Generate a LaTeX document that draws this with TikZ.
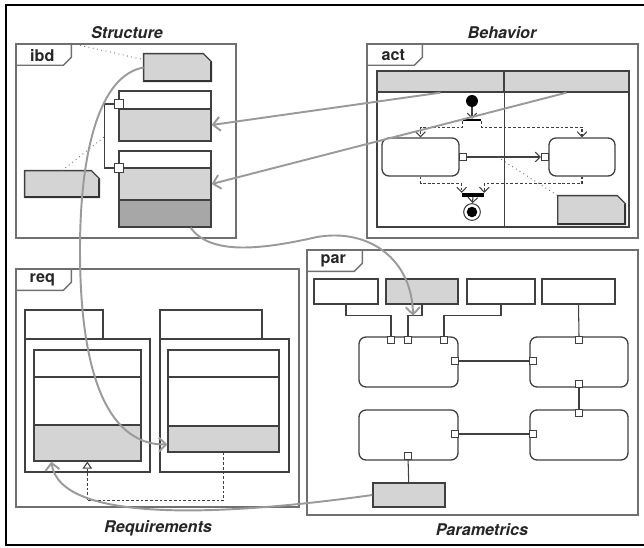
\documentclass[tikz,border=0pt]{standalone}
\usepackage{fontspec}
\setmainfont{TeX Gyre Heros}
\usetikzlibrary{fit,calc,arrows.meta}
\definecolor{lgray}{HTML}{D4D4D4}
\definecolor{dgray}{HTML}{A7A7A7}
\definecolor{framegray}{HTML}{707070}
\definecolor{linkgray}{HTML}{9A9A9A}
\tikzstyle{sysframe} = [draw=framegray, line width=0.8pt, inner sep=0pt]
\tikzstyle{blk} = [draw=black!75, line width=0.75pt, inner sep=0pt]
\tikzstyle{grayblk} = [blk, fill=lgray]
\tikzstyle{darkblk} = [blk, fill=dgray]
\tikzstyle{port} = [draw=black!75, fill=white, line width=0.6pt, minimum size=3.6pt, inner sep=0pt]
\tikzstyle{actbox} = [blk, rounded corners=4pt]
\tikzstyle{wire} = [draw=black!75, line width=0.6pt]
\tikzstyle{flow} = [wire, dash pattern=on 1.6pt off 1.1pt]
\tikzstyle{anno} = [draw=black!60, dotted, line width=0.5pt]
\tikzstyle{link} = [draw=linkgray, line width=1.1pt, -{Straight Barb[length=4pt,width=8pt]}]
\tikzstyle{flowhead} = [-{Straight Barb[length=2.8pt,width=5.5pt]}]
\tikzstyle{viewtitle} = [font=\fontsize{9.2}{11}\selectfont\bfseries\itshape, text=black!85]
\tikzstyle{tabtext} = [font=\fontsize{9.2}{11}\selectfont\bfseries, text=black!85]

\newcommand{\sysview}[4]{%
  \node[sysframe, fit={#2 #3}] (#1) {};
  \draw[draw=framegray, line width=0.8pt] (#1.north west) ++(56,0) -- ++(0,14) -- ++(-8,8) -- ++(-48,0);
  \node[tabtext] (#1-tab) at ($(#1.north west)+(27,12)$) {#4};
}
\newcommand{\dognote}[3]{%
  \node[inner sep=0pt, fit={#2 #3}] (#1) {};
  \draw[blk, fill=lgray] (#1.north west) -- ($(#1.north east)+(-8,0)$) -- ($(#1.north east)+(0,8)$) -- (#1.south east) -- (#1.south west) -- cycle;
  \draw[black!80, line width=1.2pt] ($(#1.north east)+(0,8)$) -- (#1.south east) -- (#1.south west);
}

\begin{document}
\begin{tikzpicture}[x=0.02cm, y=-0.02cm]
  \useasboundingbox (0,0) rectangle (644,547);
  \draw[line width=1pt] (644,5) -- (6,5) -- (6,545) -- (644,545);

  \node[viewtitle] (structure) at (127,33) {Structure};
  \node[viewtitle] (behavior) at (502,33) {Behavior};
  \node[viewtitle] (requirements) at (158,528) {Requirements};
  \node[viewtitle] (parametrics) at (482,530) {Parametrics};

  \sysview{ibd}{(16,44)}{(236,238)}{ibd}
  \sysview{act}{(367,44)}{(638,238)}{act}
  \sysview{req}{(16,269)}{(299,507)}{req}
  \sysview{par}{(307,250)}{(638,515)}{par}

  % ibd
  \dognote{ibdnote}{(144,54)}{(211,81)}
  \dognote{ibdnote2}{(25,171)}{(99,197)}
  \node[blk, fit={(119,91)(211,109)}] (ibd1a) {};
  \node[grayblk, fit={(119,109)(211,141)}] (ibd1b) {};
  \node[blk, fit={(119,151)(211,168)}] (ibd2a) {};
  \node[grayblk, fit={(119,168)(211,200)}] (ibd2b) {};
  \node[darkblk, fit={(119,200)(211,227)}] (ibd2c) {};
  \node[port, minimum size=5pt] (ibdp1) at (119,104) {};
  \node[port, minimum size=5pt] (ibdp2) at (119,168) {};
  \draw[wire] (ibdp1.west) -- ++(-10,0) |- (ibdp2.west);
  \coordinate (ibdtab) at ($(ibd.north west)+(56,0)$);
  \coordinate (ibdbend) at ($(ibdp1.west)+(-10,33)$);
  \draw[anno] (ibdtab) -- ($(ibdnote.north west)+(0,6)$);
  \draw[anno] (ibdnote2.north) -- (ibdbend);

  % act
  \node[blk, fit={(377,71)(629,227)}] (lanes) {};
  \node[grayblk, fit={(377,71)(504,92)}] (lane1) {};
  \node[grayblk, fit={(504,71)(629,92)}] (lane2) {};
  \draw[blk] (lane1.south east) -- (lane1.south east |- lanes.south);
  \node[circle, fill=black, minimum size=6.8pt, inner sep=0pt] (init) at (472,101) {};
  \node[fill=black, minimum width=10pt, minimum height=1pt, inner sep=0pt] (fork) at (472,120) {};
  \node[actbox, fit={(382,138)(459,176)}] (act1) {};
  \node[actbox, fit={(549,138)(615,176)}] (act2) {};
  \node[port, minimum size=4pt] (pin1) at (463,157) {};
  \node[port, minimum size=4pt] (pin2) at (545,157) {};
  \node[fill=black, minimum width=12.5pt, minimum height=2pt, inner sep=0pt] (join) at (473,195) {};
  \node[circle, draw=black!75, line width=0.6pt, minimum size=9.5pt, inner sep=0pt] (final) at (472,212) {};
  \node[circle, fill=black, minimum size=6pt, inner sep=0pt] (finaldot) at (final) {};
  \dognote{actnote}{(558,196)}{(625,224)}
  \draw[wire, flowhead] (init) -- (fork);
  \draw[flow, flowhead] (fork.south west) -- ++(0,6) -| (act1.north);
  \draw[flow, flowhead] (fork.south east) -- ++(0,6) -| (act2.north);
  \draw[flow, flowhead] (act1.south) -- ++(0,7) -| (join.north west);
  \draw[flow, flowhead] (act2.south) -- ++(0,7) -| (join.north east);
  \draw[wire, flowhead] (pin1) -- (pin2);
  \draw[wire, flowhead] (join) -- (final);
  \coordinate (pinmid) at ($(pin1)!0.42!(pin2)$);
  \draw[anno] (pinmid) -- (actnote.north west);

  % req
  \node[blk, fit={(25,310)(103,339)}] (rq1tab) {};
  \node[blk, fit={(25,339)(150,472)}] (rq1) {};
  \node[blk, fit={(34,350)(141,377)}] (rq1a) {};
  \node[blk, fit={(34,377)(141,425)}] (rq1b) {};
  \node[grayblk, fit={(34,425)(141,461)}] (rq1c) {};
  \node[blk, fit={(160,310)(262,339)}] (rq2tab) {};
  \node[blk, fit={(160,339)(289,472)}] (rq2) {};
  \node[blk, fit={(168,350)(279,377)}] (rq2a) {};
  \node[blk, fit={(168,377)(279,426)}] (rq2b) {};
  \node[grayblk, fit={(168,426)(279,452)}] (rq2c) {};
  \draw[flow, -{Triangle[open,length=4pt,width=5.5pt]}] (rq2c.south) -- ++(0,48) -| ($(rq1c.south west)+(54,0)$);

  % par
  \node[blk, fit={(314,279)(378,304)}] (pb1) {};
  \node[grayblk, fit={(386,279)(458,304)}] (pb2) {};
  \node[blk, fit={(467,279)(535,304)}] (pb3) {};
  \node[blk, fit={(542,279)(615,304)}] (pb4) {};
  \node[actbox, fit={(359,337)(458,387)}] (pc1) {};
  \node[actbox, fit={(530,337)(628,387)}] (pc2) {};
  \node[actbox, fit={(359,410)(458,460)}] (pc3) {};
  \node[actbox, fit={(530,410)(628,460)}] (pc4) {};
  \node[grayblk, fit={(373,483)(445,507)}] (pg) {};
  \foreach \n/\x/\y in {1/391/340, 2/408/340, 3/444/340, 4/455/361, 5/533/361, 6/579/340,
                        7/579/384, 8/579/413, 9/533/434, 10/455/434, 11/408/456}
    \node[port] (pp\n) at (\x,\y) {};
  \draw[wire] (pb1.south) -- ++(0,11) -| (pp1.north);
  \draw[wire] (pb2.south) -- ++(0,11) -| (pp2.north);
  \draw[wire] (pb3.south) -- ++(0,11) -| (pp3.north);
  \draw[wire] (pb4.south) -- (pp6.north);
  \draw[wire] (pp4) -- (pp5);
  \draw[wire] (pp7) -- (pp8);
  \draw[wire] (pp10) -- (pp9);
  \draw[wire] (pp11) -- (pg);

  % links between views
  \draw[link] (lane1.south) -- (ibd1b.east);
  \draw[link] (lane2.south) -- (ibd2b.east);
  \draw[link] (ibdnote.west) .. controls (100,75) and (80,150) .. (80,250)
    .. controls (80,400) and (120,445) .. ($(rq2c.south west)!0.3!(rq2c.north west)$);
  \coordinate (pbwire) at ($(pb2.south)+(-9,11)$);
  \draw[link] ($(ibd2c.south)!0.55!(ibd2c.south east)$) .. controls (210,255) and (260,250) .. (317,237)
    .. controls (370,228) and (412,260) .. (pbwire);
  \draw[link] (pg.west) .. controls (230,515) and (60,525) .. ($(rq1c.south west)+(18,0)$);
\end{tikzpicture}
\end{document}
